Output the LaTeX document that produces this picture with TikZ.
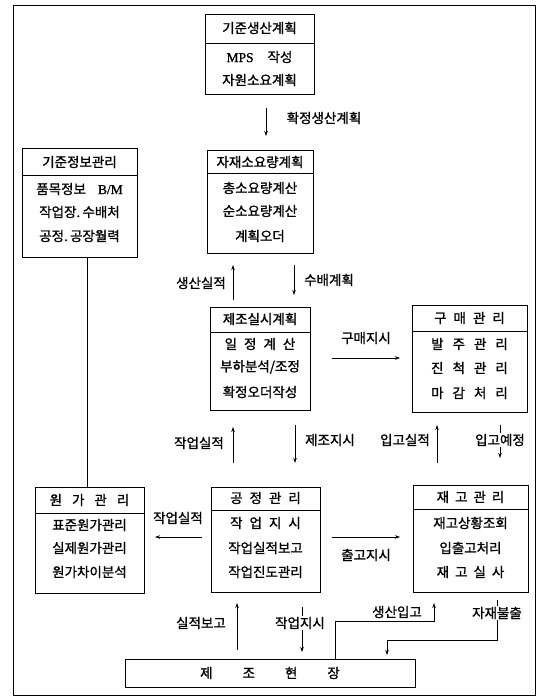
\documentclass[tikz,border=0pt]{standalone}
\usepackage{fontspec}
\newfontfamily\kr[FakeBold=1.2]{Noto Sans CJK KR}
\newfontfamily\latr[FakeBold=1]{Liberation Serif}
\usetikzlibrary{arrows.meta}
\newcommand{\g}{\hspace{7pt}}
\newcommand{\lat}[1]{{\latr #1}}
\tikzset{
  box/.style={draw, line width=0.9pt, inner sep=0pt, outer sep=0pt},
  hline/.style={line width=0.9pt},
  txt/.style={inner sep=0pt, font=\kr\fontsize{13.5}{15}\selectfont},
  lbl/.style={inner sep=0.5pt, font=\kr\fontsize{13.5}{15}\selectfont},
  arr/.style={line width=0.7pt, -{Stealth[length=5pt,width=3.5pt]}},
  plain/.style={line width=0.8pt},
  frame/.style={line width=1pt}
}
\begin{document}
\begin{tikzpicture}[x=1pt,y=-1pt]
\useasboundingbox (0,0) rectangle (541,698);
\fill[white] (0,0) rectangle (541,698);
\draw[frame] (13,6) rectangle (535,695);

% boxes
\node[box, minimum width=109pt, minimum height=80pt] (mps) at (259.5,54) {};
\draw[hline] (mps.west |- 0,43) -- (mps.east |- 0,43);
\node[txt] (mps1) at (259.5,28) {기준생산계획};
\node[txt] (mps2) at (259.5,57) {\lat{MPS}\hspace{14pt}작성};
\node[txt] (mps3) at (259.5,80) {자원소요계획};

\node[box, minimum width=106pt, minimum height=103pt] (mrp) at (260,201.5) {};
\draw[hline] (mrp.west |- 0,173) -- (mrp.east |- 0,173);
\node[txt] (mrp1) at (260,162) {자재소요량계획};
\node[txt] (mrp2) at (260,188) {총소요량계산};
\node[txt] (mrp3) at (260,211) {순소요량계산};
\node[txt] (mrp4) at (260,236) {계획오더};

\node[box, minimum width=115pt, minimum height=109pt] (base) at (79.5,202.5) {};
\draw[hline] (base.west |- 0,175) -- (base.east |- 0,175);
\node[txt] (base1) at (79.5,162) {기준정보관리};
\node[txt] (base2) at (79.5,189) {품목정보\hspace{12pt}\lat{B/M}};
\node[txt] (base3) at (79.5,212) {작업장.\,수배처};
\node[txt] (base4) at (79.5,236) {공정.\,공장월력};

\node[box, minimum width=100pt, minimum height=103pt] (plan) at (260,358.5) {};
\draw[hline] (plan.west |- 0,332) -- (plan.east |- 0,332);
\node[txt] (plan1) at (260,319) {제조실시계획};
\node[txt] (plan2) at (260,344) {일\g 정\g 계\g 산};
\node[txt] (plan3) at (260,367) {부하분석/조정};
\node[txt] (plan4) at (260,392) {확정오더작성};

\node[box, minimum width=115pt, minimum height=107pt] (buy) at (469.5,358.5) {};
\draw[hline] (buy.west |- 0,331) -- (buy.east |- 0,331);
\node[txt] (buy1) at (469.5,318) {구\g 매\g 관\g 리};
\node[txt] (buy2) at (469.5,344) {발\hspace{9pt}주\hspace{9pt}관\hspace{9pt}리};
\node[txt] (buy3) at (469.5,368) {진\hspace{9pt}척\hspace{9pt}관\hspace{9pt}리};
\node[txt] (buy4) at (469.5,393) {마\hspace{9pt}감\hspace{9pt}처\hspace{9pt}리};

\node[box, minimum width=109pt, minimum height=106pt] (cost) at (89.5,540) {};
\draw[hline] (cost.west |- 0,513) -- (cost.east |- 0,513);
\node[txt] (cost1) at (89.5,500) {원\hspace{10pt}가\hspace{10pt}관\hspace{10pt}리};
\node[txt] (cost2) at (89.5,525) {표준원가관리};
\node[txt] (cost3) at (89.5,548) {실제원가관리};
\node[txt] (cost4) at (89.5,572) {원가차이분석};

\node[box, minimum width=109pt, minimum height=105pt] (proc) at (265.5,539.5) {};
\draw[hline] (proc.west |- 0,510) -- (proc.east |- 0,510);
\node[txt] (proc1) at (265.5,498) {공\g 정\g 관\g 리};
\node[txt] (proc2) at (265.5,523) {작\g 업\g 지\g 시};
\node[txt] (proc3) at (265.5,548) {작업실적보고};
\node[txt] (proc4) at (265.5,572) {작업진도관리};

\node[box, minimum width=115pt, minimum height=107pt] (inv) at (470.5,538.5) {};
\draw[hline] (inv.west |- 0,509) -- (inv.east |- 0,509);
\node[txt] (inv1) at (470.5,497) {재\hspace{6pt}고\hspace{6pt}관\hspace{6pt}리};
\node[txt] (inv2) at (470.5,523) {재고상황조회};
\node[txt] (inv3) at (470.5,548) {입출고처리};
\node[txt] (inv4) at (470.5,572) {재\hspace{6pt}고\hspace{6pt}실\hspace{6pt}사};

\node[box, minimum width=290pt, minimum height=28pt] (shop) at (270,673) {};
\node[txt] (shop1) at (270,673) {제\hspace{30pt}조\hspace{30pt}현\hspace{30pt}장};

% connectors
\draw[arr, shorten <=14pt, shorten >=14pt] (266,0 |- mps.south) -- (266,0 |- mrp.north);
\node[lbl] (l1) at (324,118) {확정생산계획};

\draw[arr, shorten <=7pt, shorten >=12pt] (233,0 |- plan.north) -- (233,0 |- mrp.south);
\node[lbl] (l2) at (201,283) {생산실적};
\draw[arr, shorten <=12pt, shorten >=12pt] (294,0 |- mrp.south) -- (294,0 |- plan.north);
\node[lbl] (l3) at (329,280) {수배계획};

\draw[arr, shorten <=22pt, shorten >=12pt] (plan.east |- 0,358) -- (buy.west |- 0,358);
\node[lbl] (l4) at (366,338) {구매지시};

\draw[arr, shorten <=24pt, shorten >=17pt] (233,0 |- proc.north) -- (233,0 |- plan.south);
\node[lbl] (l5) at (199,443) {작업실적};
\draw[arr, shorten <=15pt, shorten >=24pt] (295,0 |- plan.south) -- (295,0 |- proc.north);
\node[lbl] (l6) at (330,440) {제조지시};

\draw[arr, shorten <=22pt, shorten >=13pt] (437,0 |- inv.north) -- (437,0 |- buy.south);
\node[lbl] (l7) at (405,440) {입고실적};
\draw[arr, shorten <=13pt, shorten >=27pt] (500,0 |- buy.south) -- (500,0 |- inv.north);
\node[lbl, fill=white] (l8) at (500,440) {입고예정};

\draw[arr, shorten <=9pt, shorten >=11pt] (proc.west |- 0,537) -- (cost.east |- 0,537);
\node[lbl] (l9) at (178,518) {작업실적};
\draw[arr, shorten <=12pt, shorten >=13pt] (proc.east |- 0,537) -- (inv.west |- 0,537);
\node[lbl] (l10) at (366,555) {출고지시};

\draw[plain] (87,0 |- base.south) -- (87,0 |- cost.north);

\draw[arr, shorten <=9pt, shorten >=11pt] (237,0 |- shop.north) -- (237,0 |- proc.south);
\node[lbl] (l11) at (201,623) {실적보고};
\draw[arr, shorten <=15pt, shorten >=7pt] (302,0 |- proc.south) -- (302,0 |- shop.north);
\node[lbl, fill=white] (l12) at (300,623) {작업지시};

\draw[arr, shorten >=11pt] (335,0 |- shop.north) -- (335,621) -| (434,0 |- inv.south);
\node[lbl] (l13) at (397,612) {생산입고};
\draw[arr, shorten <=8pt, shorten >=4pt] (497,0 |- inv.south) -- (497,640) -| (387,0 |- shop.north);
\node[lbl, fill=white] (l14) at (497,613) {자재불출};
\end{tikzpicture}
\end{document}
